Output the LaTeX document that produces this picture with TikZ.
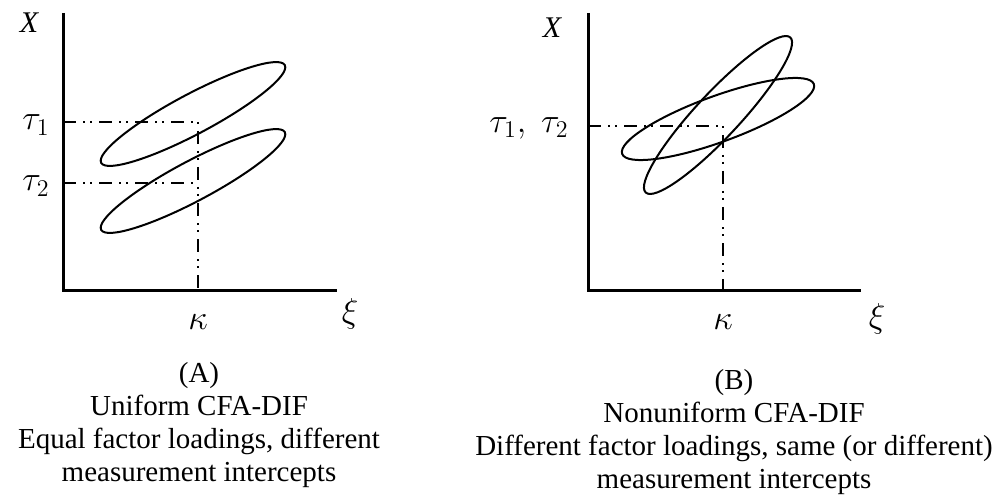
\documentclass[tikz,border=0pt]{standalone}
\usepackage{fontspec}
\setmainfont{Liberation Serif}
\usetikzlibrary{positioning}

\tikzset{
  axis line/.style={line width=1.5pt},
  guide line/.style={line width=0.7pt,
    dash pattern=on 6.5pt off 3.5pt on 1pt off 2.5pt on 1pt off 3.5pt},
  ellipse line/.style={line width=1pt},
  greek/.style={font=\fontsize{18}{20}\selectfont, inner sep=0pt},
  axis label/.style={font=\fontsize{15}{17}\selectfont\itshape, inner sep=0pt},
  caption/.style={font=\fontsize{14.5}{16.5}\selectfont, align=center,
    anchor=north, inner sep=0pt}
}

\begin{document}
\begin{tikzpicture}[x=0.5pt, y=-0.5pt]
  \useasboundingbox (0,0) rectangle (1005,497);
  % (A) uniform
  \coordinate (topA) at (63,13);
  \coordinate (oA) at (63,290);
  \coordinate (endA) at (337,290);
  \coordinate (t1A) at (63,122);
  \coordinate (t2A) at (63,183);
  \coordinate (c1A) at (198,122);
  \coordinate (c2A) at (198,183);
  \coordinate (kA) at (198,290);
  \draw[axis line] (topA) -- (oA) -- (endA);
  \draw[guide line] (t1A) -- (c1A) -- (kA);
  \draw[guide line] (t2A) -- (c2A);
  \draw[ellipse line, shift={(193,114)}, rotate=28]
    (0,0) ellipse [x radius=104, y radius=20];
  \draw[ellipse line, shift={(193,181)}, rotate=28]
    (0,0) ellipse [x radius=104, y radius=20];
  \node[axis label] (XA) at (29,23) {X};
  \node[greek] (tau1A) at (36,125) {$\tau_1$};
  \node[greek] (tau2A) at (36,186) {$\tau_2$};
  \node[greek] (kapA) at (198,322) {$\kappa$};
  \node[greek] (xiA) at (350,314) {$\xi$};
  \node[caption] (capA) at (199,362)
    {(A)\\Uniform CFA-DIF\\Equal factor loadings, different\\measurement intercepts};
  % (B) nonuniform
  \coordinate (topB) at (588,13);
  \coordinate (oB) at (588,290);
  \coordinate (endB) at (861,290);
  \coordinate (tB) at (588,126);
  \coordinate (cB) at (723,126);
  \coordinate (kB) at (723,290);
  \draw[axis line] (topB) -- (oB) -- (endB);
  \draw[guide line] (tB) -- (cB) -- (kB);
  \draw[ellipse line, shift={(718,115)}, rotate=47]
    (0,0) ellipse [x radius=106, y radius=22];
  \draw[ellipse line, shift={(718,119)}, rotate=20]
    (0,0) ellipse [x radius=102, y radius=23];
  \node[axis label] (XB) at (552,28) {X};
  \node[greek] (tauB) at (529,128) {$\tau_1,\ \tau_2$};
  \node[greek] (kapB) at (723,322) {$\kappa$};
  \node[greek] (xiB) at (877,319) {$\xi$};
  \node[caption] (capB) at (734,369)
    {(B)\\Nonuniform CFA-DIF\\Different factor loadings, same (or different)\\measurement intercepts};
\end{tikzpicture}
\end{document}
